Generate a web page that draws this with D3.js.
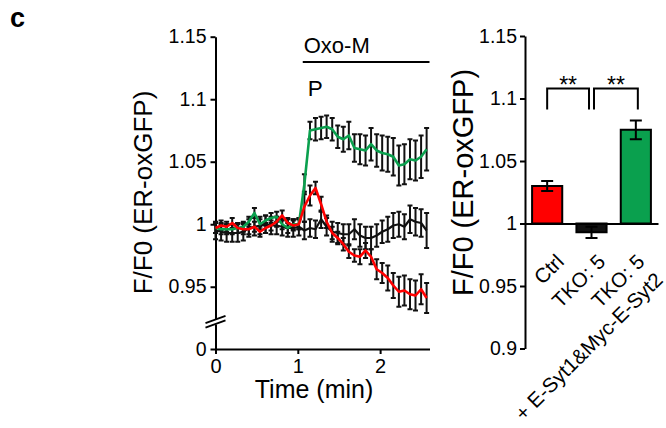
<!DOCTYPE html>
<html>
<head>
<meta charset="utf-8">
<script src="https://cdn.jsdelivr.net/npm/d3@7"></script>
<style>
  html, body { margin: 0; padding: 0; background: #fff; }
  svg { display: block; }
</style>
</head>
<body>
<svg id="fig" width="666" height="428"></svg>
<script>
// ---- time course (minutes) ----
const timeMin = [0, 0.068, 0.135, 0.203, 0.270, 0.338, 0.405, 0.473, 0.540, 0.608,
  0.675, 0.743, 0.810, 0.878, 0.945, 1.013, 1.080, 1.148, 1.215, 1.283,
  1.350, 1.418, 1.485, 1.553, 1.620, 1.688, 1.755, 1.823, 1.890, 1.958,
  2.025, 2.093, 2.160, 2.228, 2.295, 2.363, 2.430, 2.498, 2.565];

// Ctrl (red)
const ctrlMean = [0.997, 0.999, 0.998, 1.001, 0.997, 0.996, 0.996, 0.998, 0.994, 0.997,
  0.999, 1.002, 1.007, 1.001, 0.999, 1.000, 1.014, 1.023, 1.029, 1.016,
  1.002, 0.993, 0.989, 0.984, 0.978, 0.975, 0.974, 0.979, 0.974, 0.964,
  0.961, 0.957, 0.951, 0.946, 0.947, 0.944, 0.943, 0.948, 0.941];
const ctrlSem = [0.004, 0.004, 0.004, 0.004, 0.004, 0.004, 0.004, 0.004, 0.004, 0.004,
  0.004, 0.004, 0.004, 0.004, 0.004, 0.004, 0.012, 0.008, 0.005, 0.006,
  0.005, 0.005, 0.005, 0.005, 0.005, 0.005, 0.006, 0.006, 0.006, 0.008,
  0.008, 0.010, 0.010, 0.012, 0.012, 0.012, 0.012, 0.012, 0.012];

// TKO: 5 (black)
const tkoMean = [0.995, 0.994, 0.993, 0.993, 0.993, 0.994, 0.997, 0.998, 0.999, 1.000,
  0.999, 0.999, 0.998, 0.997, 0.997, 0.998, 0.995, 0.997, 0.996, 1.004,
  0.998, 0.994, 0.993, 0.992, 0.992, 0.996, 0.991, 0.989, 0.989, 0.991,
  0.994, 0.996, 0.999, 1.000, 0.998, 1.004, 1.002, 1.001, 0.995];
const tkoSem = [0.007, 0.007, 0.007, 0.007, 0.007, 0.007, 0.007, 0.007, 0.007, 0.007,
  0.007, 0.007, 0.007, 0.007, 0.007, 0.007, 0.007, 0.007, 0.007, 0.007,
  0.007, 0.008, 0.008, 0.008, 0.008, 0.008, 0.009, 0.009, 0.009, 0.009,
  0.009, 0.010, 0.010, 0.010, 0.010, 0.011, 0.011, 0.011, 0.014];

// TKO: 5 + E-Syt1&Myc-E-Syt2 (green)
const rescueMean = [0.997, 0.996, 0.996, 0.996, 0.997, 0.998, 1.002, 1.009, 1.000, 1.003,
  1.005, 1.006, 1.000, 0.997, 1.000, 1.000, 1.032, 1.075, 1.076, 1.077,
  1.078, 1.076, 1.070, 1.068, 1.071, 1.061, 1.060, 1.059, 1.064, 1.059,
  1.057, 1.056, 1.054, 1.047, 1.048, 1.052, 1.051, 1.054, 1.060];
const rescueSem = [0.004, 0.004, 0.004, 0.004, 0.004, 0.004, 0.004, 0.004, 0.004, 0.004,
  0.004, 0.004, 0.004, 0.004, 0.004, 0.004, 0.008, 0.007, 0.009, 0.009,
  0.009, 0.009, 0.009, 0.010, 0.011, 0.011, 0.012, 0.012, 0.013, 0.013,
  0.014, 0.014, 0.015, 0.016, 0.016, 0.016, 0.016, 0.017, 0.017];

const oxoStart = 1.06, oxoEnd = 2.6;

// trace axes
const traceTicksX = [0, 1, 2];
const traceTicksY = [0.95, 1, 1.05, 1.1, 1.15];

// ---- summary bars ----
const barLabels = [["Ctrl"], ["TKO: 5"], ["TKO: 5", "+ E-Syt1&Myc-E-Syt2"]];
const barMeans = [1.030, 0.993, 1.075];
const barSems = [0.004, 0.0045, 0.0075];
const barTicksY = [0.9, 0.95, 1, 1.05, 1.1, 1.15];
const sigPairs = [[0, 1, "**"], [1, 2, "**"]];

const RED = "#ff0000", GREEN = "#0aa04e", BLACK = "#111";
const FONT = "'Liberation Sans', Arial, Helvetica, sans-serif";

const svg = d3.select("#fig").style("font-family", FONT);

// panel letter
svg.append("text").attr("x", 10).attr("y", 27)
  .attr("font-size", 27).attr("font-weight", "bold").text("c");

function styleAxis(g, size) {
  g.selectAll("path.domain").attr("stroke", "#000").attr("stroke-width", 2);
  g.selectAll(".tick line").attr("stroke", "#000").attr("stroke-width", 2);
  g.selectAll(".tick text").attr("font-size", size).attr("font-family", FONT).attr("fill", "#000");
}
const fmt = d => String(+d.toFixed(2));

// ================= left: time course =================
const x = d3.scaleLinear().domain([0, 2.6]).range([215.5, 429.5]);
const y = d3.scaleLinear().domain([0.9238, 1.15]).range([319.5, 36.7]);
const yZero = d3.scaleLinear().domain([0, 0.02]).range([349, 324]);

const left = svg.append("g");

left.append("g").attr("transform", `translate(${x(0)},0)`)
  .call(d3.axisLeft(y).tickValues(traceTicksY).tickFormat(fmt)
    .tickSize(5).tickSizeOuter(0).tickPadding(4))
  .call(g => styleAxis(g, 19.5));

left.append("g").attr("transform", `translate(${x(0)},0)`)
  .call(d3.axisLeft(yZero).tickValues([0]).tickFormat(fmt)
    .tickSize(5).tickSizeOuter(0).tickPadding(4))
  .call(g => styleAxis(g, 19.5));

left.append("g").attr("transform", `translate(0,${yZero(0)})`)
  .call(d3.axisBottom(x).tickValues(traceTicksX).tickFormat(d3.format("d"))
    .tickSize(5).tickSizeOuter(0).tickPadding(5))
  .call(g => styleAxis(g, 20));

// axis break marks
[y.range()[0], yZero.range()[1]].forEach(yb => {
  left.append("line")
    .attr("x1", x(0) - 10).attr("y1", yb + 3.6)
    .attr("x2", x(0) + 10).attr("y2", yb - 3.6)
    .attr("stroke", "#000").attr("stroke-width", 1.8);
});

const series = [
  { mean: tkoMean, sem: tkoSem, color: BLACK, w: 2.2 },
  { mean: rescueMean, sem: rescueSem, color: GREEN, w: 2.6 },
  { mean: ctrlMean, sem: ctrlSem, color: RED, w: 2.6 }
];

// error bars underneath the traces
series.forEach(s => {
  const gb = left.append("g").attr("stroke", "#111").attr("stroke-width", 2).attr("fill", "none");
  timeMin.forEach((t, i) => {
    const cx = x(t), lo = y(s.mean[i] - s.sem[i]), hi = y(s.mean[i] + s.sem[i]);
    gb.append("path").attr("d",
      `M${cx},${lo}V${hi}M${cx - 2.5},${lo}H${cx + 2.5}M${cx - 2.5},${hi}H${cx + 2.5}`);
  });
});

const line = d3.line().x((d, i) => x(timeMin[i])).y(d => y(d));
series.forEach(s => {
  left.append("path").datum(s.mean).attr("d", line)
    .attr("fill", "none").attr("stroke", s.color).attr("stroke-width", s.w)
    .attr("stroke-linejoin", "round");
});

// stimulation bar
left.append("line").attr("x1", x(oxoStart)).attr("x2", x(oxoEnd))
  .attr("y1", 62).attr("y2", 62).attr("stroke", "#000").attr("stroke-width", 2);
left.append("text").attr("x", x(oxoStart) + 1).attr("y", 53)
  .attr("font-size", 22).text("Oxo-M");
left.append("text").attr("x", x(oxoStart) + 5).attr("y", 96)
  .attr("font-size", 22.5).text("P");

// axis titles
left.append("text").attr("transform", "translate(152,192.5) rotate(-90)")
  .attr("text-anchor", "middle").attr("font-size", 26).text("F/F0 (ER-oxGFP)");
left.append("text").attr("x", 314).attr("y", 398)
  .attr("text-anchor", "middle").attr("font-size", 25).text("Time (min)");

// ================= right: bar summary =================
const yR = d3.scaleLinear().domain([0.9, 1.15]).range([348.5, 36]);
const xR = d3.scaleBand().domain(d3.range(barMeans.length)).range([525, 658])
  .paddingInner(0.32).paddingOuter(0.16);
const cx = i => xR(i) + xR.bandwidth() / 2;

const right = svg.append("g");

right.append("g").attr("transform", `translate(${xR.range()[0]},0)`)
  .call(d3.axisLeft(yR).tickValues(barTicksY).tickFormat(fmt)
    .tickSize(5).tickSizeOuter(0).tickPadding(3))
  .call(g => styleAxis(g, 19.5));

right.selectAll("rect.bar").data(barMeans).join("rect")
  .attr("class", "bar")
  .attr("x", (d, i) => xR(i)).attr("width", xR.bandwidth())
  .attr("y", d => Math.min(yR(d), yR(1)))
  .attr("height", d => Math.abs(yR(d) - yR(1)))
  .attr("fill", (d, i) => [RED, BLACK, GREEN][i])
  .attr("stroke", "#000").attr("stroke-width", 2);

// baseline at F/F0 = 1
right.append("g").attr("transform", `translate(0,${yR(1)})`)
  .call(d3.axisBottom(xR).tickSize(0).tickSizeOuter(0).tickFormat(""))
  .call(g => styleAxis(g, 20));

// error bars
barMeans.forEach((m, i) => {
  const c = cx(i), lo = yR(m - barSems[i]), hi = yR(m + barSems[i]);
  right.append("path").attr("d",
    `M${c},${lo}V${hi}M${c - 6},${lo}H${c + 6}M${c - 6},${hi}H${c + 6}`)
    .attr("stroke", "#000").attr("stroke-width", 2).attr("fill", "none");
});

// significance brackets
sigPairs.forEach(([a, b, label], k) => {
  const x1 = cx(a) + (k === 1 ? 2.5 : 0);
  const x2 = cx(b) - (k === 0 ? 2.5 : -2);
  const top = yR(1.108), leg = yR(1.0913);
  right.append("path").attr("d", `M${x1},${leg}V${top}H${x2}V${leg}`)
    .attr("fill", "none").attr("stroke", "#000").attr("stroke-width", 2);
  right.append("text").attr("x", (x1 + x2) / 2).attr("y", top + 4)
    .attr("text-anchor", "middle").attr("font-size", 23).text(label);
});

// rotated category labels (end-anchored under each bar)
const labelShift = [18, 15, 10];
barLabels.forEach((lines, i) => {
  const t = right.append("text")
    .attr("transform", `translate(${cx(i) + labelShift[i]},263) rotate(-45)`)
    .attr("text-anchor", "end").attr("font-size", 20.5);
  lines.forEach((ln, j) => {
    t.append("tspan").attr("x", 0).attr("dy", j === 0 ? 0 : "1.25em").text(ln);
  });
});

right.append("text").attr("transform", "translate(473,182.5) rotate(-90)")
  .attr("text-anchor", "middle").attr("font-size", 29).text("F/F0 (ER-oxGFP)");
</script>
</body>
</html>
